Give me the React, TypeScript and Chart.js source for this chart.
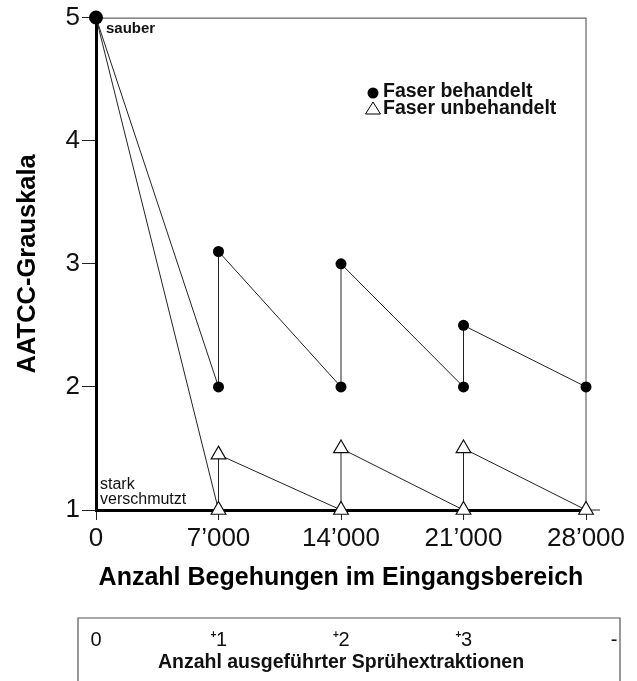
import React, { useEffect, useRef } from "react";
import { Chart, registerables } from "chart.js";

Chart.register(...registerables);

const FONT = "'Liberation Sans', Arial, Helvetica, sans-serif";

// Data
const xPositions = [0, 7000, 7000, 14000, 14000, 21000, 21000, 28000];
const behandelt = [5, 2, 3.1, 2, 3.0, 2, 2.5, 2];
const unbehandelt = [5, 1, 1.45, 1, 1.5, 1, 1.5, 1];
const xTickValues = [0, 7000, 14000, 21000, 28000];
const xTickLabels = ["0", "7\u2019000", "14\u2019000", "21\u2019000", "28\u2019000"];
const yTickLabels = ["1", "2", "3", "4", "5"];
const sprayValues = [0, 7000, 14000, 21000];
const sprayLabels = ["0", "1", "2", "3"];
const sprayPlus = [false, true, true, true];
const sprayLast = "-";
const seriesNames = ["Faser behandelt", "Faser unbehandelt"];
const xTitle = "Anzahl Begehungen im Eingangsbereich";
const yTitle = "AATCC-Grauskala";
const sprayTitle = "Anzahl ausgef\u00fchrter Spr\u00fchextraktionen";
const topNote = "sauber";
const bottomNote = ["stark", "verschmutzt"];

const decorPlugin = {
  id: "decor",
  beforeDatasetsDraw(chart: any) {
    const { ctx, chartArea } = chart;
    const { left, right, top, bottom } = chartArea;
    ctx.save();
    ctx.strokeStyle = "#666";
    ctx.lineWidth = 1.2;
    ctx.beginPath();
    ctx.moveTo(left, top + 0.5);
    ctx.lineTo(right, top + 0.5);
    ctx.lineTo(right, bottom);
    ctx.stroke();
    ctx.strokeStyle = "#222";
    ctx.lineWidth = 1;
    ctx.beginPath();
    ctx.moveTo(right, bottom);
    ctx.lineTo(right + 14, bottom);
    ctx.stroke();
    ctx.restore();
  },
  afterDraw(chart: any) {
    const { ctx, chartArea, scales } = chart;
    const xs = scales.x;
    const ys = scales.y;
    ctx.save();
    ctx.fillStyle = "#111";
    ctx.textBaseline = "middle";
    ctx.textAlign = "left";
    // notes
    ctx.font = `bold 15px ${FONT}`;
    ctx.fillText(topNote, chartArea.left + 10, ys.getPixelForValue(5) + 11);
    ctx.font = `16px ${FONT}`;
    ctx.fillText(bottomNote[0], chartArea.left + 4, ys.getPixelForValue(1) - 25);
    ctx.fillText(bottomNote[1], chartArea.left + 4, ys.getPixelForValue(1) - 10);

    // legend
    const lx = 373;
    const ly = 92;
    ctx.fillStyle = "#000";
    ctx.beginPath();
    ctx.arc(lx, ly + 1, 5.5, 0, Math.PI * 2);
    ctx.fill();
    ctx.strokeStyle = "#000";
    ctx.lineWidth = 1;
    ctx.fillStyle = "#fff";
    ctx.beginPath();
    ctx.moveTo(lx, ly + 10);
    ctx.lineTo(lx + 7.5, ly + 22);
    ctx.lineTo(lx - 7.5, ly + 22);
    ctx.closePath();
    ctx.fill();
    ctx.stroke();
    ctx.fillStyle = "#111";
    ctx.font = `bold 19.5px ${FONT}`;
    ctx.fillText(seriesNames[0], lx + 10, ly);
    ctx.fillText(seriesNames[1], lx + 10, ly + 17);

    // bottom box
    const boxTop = 618;
    const boxLeft = 78;
    const boxRight = 620;
    ctx.strokeStyle = "#555";
    ctx.lineWidth = 1.2;
    ctx.beginPath();
    ctx.moveTo(boxLeft, 700);
    ctx.lineTo(boxLeft, boxTop);
    ctx.lineTo(boxRight, boxTop);
    ctx.lineTo(boxRight, 700);
    ctx.stroke();
    ctx.fillStyle = "#111";
    ctx.textAlign = "center";
    sprayValues.forEach((v, i) => {
      const px = xs.getPixelForValue(v);
      ctx.font = `20px ${FONT}`;
      ctx.fillText(sprayLabels[i], px + (sprayPlus[i] ? 3 : 0), 640);
      if (sprayPlus[i]) {
        ctx.font = `bold 10px ${FONT}`;
        ctx.fillText("+", px - 5, 635);
      }
    });
    ctx.font = `20px ${FONT}`;
    ctx.fillText(sprayLast, xs.getPixelForValue(28000) + 28, 640);
    ctx.font = `bold 19.5px ${FONT}`;
    ctx.fillText(sprayTitle, xs.getPixelForValue(14000), 663);
    ctx.restore();
  },
};

export default function App() {
  const ref = useRef<HTMLCanvasElement | null>(null);
  useEffect(() => {
    if (!ref.current) return;
    const chart = new Chart(ref.current, {
      type: "line",
      data: {
        datasets: [
          {
            label: seriesNames[0],
            data: xPositions.map((x, i) => ({ x, y: behandelt[i] })),
            borderColor: "#222",
            borderWidth: 1,
            backgroundColor: "#000",
            pointStyle: "circle",
            pointRadius: xPositions.map((_, i) => (i === 0 ? 7 : 5.5)),
            pointBackgroundColor: "#000",
            pointBorderColor: "#000",
            pointBorderWidth: 0,
            tension: 0,
            clip: false as any,
          },
          {
            label: seriesNames[1],
            data: xPositions.map((x, i) => ({ x, y: unbehandelt[i] })),
            borderColor: "#222",
            borderWidth: 1,
            backgroundColor: "#fff",
            pointStyle: "triangle",
            pointRadius: xPositions.map((_, i) => (i === 0 ? 0 : 8.5)),
            pointBackgroundColor: "#fff",
            pointBorderColor: "#111",
            pointBorderWidth: 1.2,
            tension: 0,
            clip: false as any,
          },
        ],
      },
      options: {
        animation: false,
        responsive: false,
        devicePixelRatio: 1,
        layout: { padding: { left: 0, right: 51, top: 17, bottom: 88 } },
        plugins: { legend: { display: false }, tooltip: { enabled: false } },
        scales: {
          x: {
            type: "linear",
            min: 0,
            max: 28000,
            afterFit: (s: any) => {
              s.height = 83;
            },
            afterBuildTicks: (s: any) => {
              s.ticks = xTickValues.map((v) => ({ value: v }));
            },
            ticks: {
              autoSkip: false,
              maxRotation: 0,
              padding: 3,
              color: "#111",
              font: { family: FONT, size: 26 },
              callback: (v: any) => xTickLabels[xTickValues.indexOf(Number(v))] ?? "",
            },
            grid: { drawOnChartArea: false, tickLength: 10, tickColor: "#222", tickWidth: 1 },
            border: { color: "#000", width: 3 },
            title: {
              display: true,
              text: xTitle,
              color: "#000",
              font: { family: FONT, size: 25, weight: "bold" },
              padding: { top: 0, bottom: 0 },
            },
          },
          y: {
            type: "linear",
            min: 1,
            max: 5,
            afterFit: (s: any) => {
              s.width = 96;
            },
            ticks: {
              stepSize: 1,
              padding: 2,
              color: "#111",
              font: { family: FONT, size: 26 },
              callback: (v: any) => yTickLabels[Number(v) - 1] ?? "",
            },
            grid: { drawOnChartArea: false, tickLength: 14, tickColor: "#222", tickWidth: 1 },
            border: { color: "#000", width: 3 },
            title: {
              display: true,
              text: yTitle,
              color: "#000",
              font: { family: FONT, size: 25.5, weight: "bold" },
              padding: { top: 13, bottom: 0 },
            },
          },
        },
      },
      plugins: [decorPlugin],
    } as any);
    return () => chart.destroy();
  }, []);
  return (
    <div style={{ position: "fixed", left: 0, top: 0, width: 637, height: 681, background: "#fff" }}>
      <canvas ref={ref} width={637} height={681} style={{ width: 637, height: 681, display: "block" }} />
    </div>
  );
}
